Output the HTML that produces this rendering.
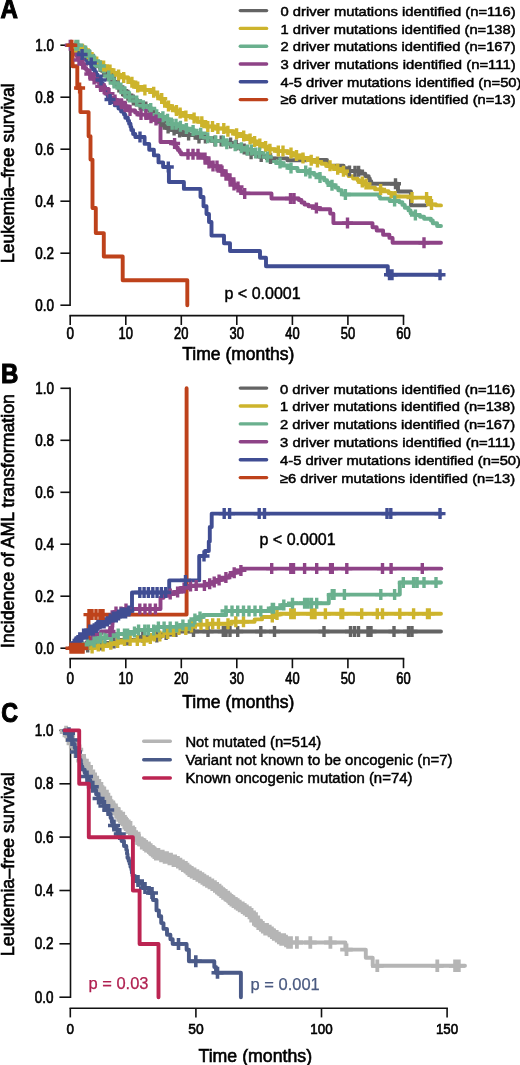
<!DOCTYPE html>
<html><head><meta charset="utf-8"><style>html,body{margin:0;padding:0;background:#fff;width:520px;height:1065px;overflow:hidden}</style></head><body>
<svg width="520" height="1065" viewBox="0 0 520 1065" style="position:absolute;left:0;top:0;filter:blur(0.3px)">
<g font-family='"Liberation Sans", sans-serif'>
<text x="0.5" y="17.6" font-size="27.5" text-anchor="start" font-weight="bold" fill="#000" stroke="#000" stroke-width="1.1" textLength="17.4" lengthAdjust="spacingAndGlyphs">A</text>
<text x="1.0" y="383.2" font-size="27.5" text-anchor="start" font-weight="bold" fill="#000" stroke="#000" stroke-width="1.1" textLength="17.4" lengthAdjust="spacingAndGlyphs">B</text>
<text x="1.2" y="722.3" font-size="27.5" text-anchor="start" font-weight="bold" fill="#000" stroke="#000" stroke-width="1.1" textLength="16.8" lengthAdjust="spacingAndGlyphs">C</text>
<line x1="70.1" y1="45.2" x2="70.1" y2="305.2" stroke="#111" stroke-width="1.6" stroke-linecap="square"/>
<line x1="60.4" y1="305.2" x2="70.1" y2="305.2" stroke="#111" stroke-width="1.6"/>
<text x="54.0" y="310.7" font-size="15.6" text-anchor="end" font-weight="normal" fill="#000" stroke="#000" stroke-width="0.65" textLength="18.7" lengthAdjust="spacingAndGlyphs">0.0</text>
<line x1="60.4" y1="253.2" x2="70.1" y2="253.2" stroke="#111" stroke-width="1.6"/>
<text x="54.0" y="258.7" font-size="15.6" text-anchor="end" font-weight="normal" fill="#000" stroke="#000" stroke-width="0.65" textLength="18.7" lengthAdjust="spacingAndGlyphs">0.2</text>
<line x1="60.4" y1="201.2" x2="70.1" y2="201.2" stroke="#111" stroke-width="1.6"/>
<text x="54.0" y="206.7" font-size="15.6" text-anchor="end" font-weight="normal" fill="#000" stroke="#000" stroke-width="0.65" textLength="18.7" lengthAdjust="spacingAndGlyphs">0.4</text>
<line x1="60.4" y1="149.2" x2="70.1" y2="149.2" stroke="#111" stroke-width="1.6"/>
<text x="54.0" y="154.7" font-size="15.6" text-anchor="end" font-weight="normal" fill="#000" stroke="#000" stroke-width="0.65" textLength="18.7" lengthAdjust="spacingAndGlyphs">0.6</text>
<line x1="60.4" y1="97.2" x2="70.1" y2="97.2" stroke="#111" stroke-width="1.6"/>
<text x="54.0" y="102.7" font-size="15.6" text-anchor="end" font-weight="normal" fill="#000" stroke="#000" stroke-width="0.65" textLength="18.7" lengthAdjust="spacingAndGlyphs">0.8</text>
<line x1="60.4" y1="45.2" x2="70.1" y2="45.2" stroke="#111" stroke-width="1.6"/>
<text x="54.0" y="50.7" font-size="15.6" text-anchor="end" font-weight="normal" fill="#000" stroke="#000" stroke-width="0.65" textLength="18.7" lengthAdjust="spacingAndGlyphs">1.0</text>
<line x1="70.2" y1="315.6" x2="403.5" y2="315.6" stroke="#111" stroke-width="1.6" stroke-linecap="square"/>
<line x1="70.2" y1="315.6" x2="70.2" y2="325.0" stroke="#111" stroke-width="1.6"/>
<text x="70.2" y="338.5" font-size="15.6" text-anchor="middle" font-weight="normal" fill="#000" stroke="#000" stroke-width="0.65" textLength="7.5" lengthAdjust="spacingAndGlyphs">0</text>
<line x1="125.8" y1="315.6" x2="125.8" y2="325.0" stroke="#111" stroke-width="1.6"/>
<text x="125.8" y="338.5" font-size="15.6" text-anchor="middle" font-weight="normal" fill="#000" stroke="#000" stroke-width="0.65" textLength="14.4" lengthAdjust="spacingAndGlyphs">10</text>
<line x1="181.3" y1="315.6" x2="181.3" y2="325.0" stroke="#111" stroke-width="1.6"/>
<text x="181.3" y="338.5" font-size="15.6" text-anchor="middle" font-weight="normal" fill="#000" stroke="#000" stroke-width="0.65" textLength="14.4" lengthAdjust="spacingAndGlyphs">20</text>
<line x1="236.8" y1="315.6" x2="236.8" y2="325.0" stroke="#111" stroke-width="1.6"/>
<text x="236.8" y="338.5" font-size="15.6" text-anchor="middle" font-weight="normal" fill="#000" stroke="#000" stroke-width="0.65" textLength="14.4" lengthAdjust="spacingAndGlyphs">30</text>
<line x1="292.4" y1="315.6" x2="292.4" y2="325.0" stroke="#111" stroke-width="1.6"/>
<text x="292.4" y="338.5" font-size="15.6" text-anchor="middle" font-weight="normal" fill="#000" stroke="#000" stroke-width="0.65" textLength="14.4" lengthAdjust="spacingAndGlyphs">40</text>
<line x1="347.9" y1="315.6" x2="347.9" y2="325.0" stroke="#111" stroke-width="1.6"/>
<text x="347.9" y="338.5" font-size="15.6" text-anchor="middle" font-weight="normal" fill="#000" stroke="#000" stroke-width="0.65" textLength="14.4" lengthAdjust="spacingAndGlyphs">50</text>
<line x1="403.5" y1="315.6" x2="403.5" y2="325.0" stroke="#111" stroke-width="1.6"/>
<text x="403.5" y="338.5" font-size="15.6" text-anchor="middle" font-weight="normal" fill="#000" stroke="#000" stroke-width="0.65" textLength="14.4" lengthAdjust="spacingAndGlyphs">60</text>
<text x="182.3" y="359.6" font-size="18.4" text-anchor="start" font-weight="normal" fill="#000" stroke="#000" stroke-width="0.65" textLength="112.1" lengthAdjust="spacingAndGlyphs">Time (months)</text>
<text transform="translate(13.7,263.0) rotate(-90)" x="0" y="0" font-size="18.3" stroke="#000" stroke-width="0.65" textLength="179.6" lengthAdjust="spacingAndGlyphs">Leukemia–free survival</text>
<text x="224.5" y="298.7" font-size="16.0" text-anchor="start" font-weight="normal" fill="#000" stroke="#000" stroke-width="0.45" textLength="76.1" lengthAdjust="spacingAndGlyphs">p &lt; 0.0001</text>
<line x1="240.3" y1="10.6" x2="266.6" y2="10.6" stroke="#646464" stroke-width="3.4" stroke-linecap="round"/>
<text x="280.5" y="15.9" font-size="13.6" text-anchor="start" font-weight="normal" fill="#000" stroke="#000" stroke-width="0.5" textLength="235.1" lengthAdjust="spacingAndGlyphs">0 driver mutations identified (n=116)</text>
<line x1="240.3" y1="28.4" x2="266.6" y2="28.4" stroke="#CDB42C" stroke-width="3.4" stroke-linecap="round"/>
<text x="280.5" y="33.6" font-size="13.6" text-anchor="start" font-weight="normal" fill="#000" stroke="#000" stroke-width="0.5" textLength="235.1" lengthAdjust="spacingAndGlyphs">1 driver mutations identified (n=138)</text>
<line x1="240.3" y1="46.2" x2="266.6" y2="46.2" stroke="#6AB08E" stroke-width="3.4" stroke-linecap="round"/>
<text x="280.5" y="51.3" font-size="13.6" text-anchor="start" font-weight="normal" fill="#000" stroke="#000" stroke-width="0.5" textLength="235.1" lengthAdjust="spacingAndGlyphs">2 driver mutations identified (n=167)</text>
<line x1="240.3" y1="64.0" x2="266.6" y2="64.0" stroke="#8E4387" stroke-width="3.4" stroke-linecap="round"/>
<text x="280.5" y="69.0" font-size="13.6" text-anchor="start" font-weight="normal" fill="#000" stroke="#000" stroke-width="0.5" textLength="235.1" lengthAdjust="spacingAndGlyphs">3 driver mutations identified (n=111)</text>
<line x1="240.3" y1="81.8" x2="266.6" y2="81.8" stroke="#404D93" stroke-width="3.4" stroke-linecap="round"/>
<text x="280.5" y="86.7" font-size="13.6" text-anchor="start" font-weight="normal" fill="#000" stroke="#000" stroke-width="0.5" textLength="241.0" lengthAdjust="spacingAndGlyphs">4-5 driver mutations identified (n=50)</text>
<line x1="240.3" y1="99.6" x2="266.6" y2="99.6" stroke="#BE421B" stroke-width="3.4" stroke-linecap="round"/>
<text x="280.5" y="104.4" font-size="13.6" text-anchor="start" font-weight="normal" fill="#000" stroke="#000" stroke-width="0.5" textLength="235.1" lengthAdjust="spacingAndGlyphs">≥6 driver mutations identified (n=13)</text>
<line x1="70.1" y1="388.3" x2="70.1" y2="648.2" stroke="#111" stroke-width="1.6" stroke-linecap="square"/>
<line x1="60.4" y1="648.2" x2="70.1" y2="648.2" stroke="#111" stroke-width="1.6"/>
<text x="54.0" y="653.7" font-size="15.6" text-anchor="end" font-weight="normal" fill="#000" stroke="#000" stroke-width="0.65" textLength="18.7" lengthAdjust="spacingAndGlyphs">0.0</text>
<line x1="60.4" y1="596.2" x2="70.1" y2="596.2" stroke="#111" stroke-width="1.6"/>
<text x="54.0" y="601.7" font-size="15.6" text-anchor="end" font-weight="normal" fill="#000" stroke="#000" stroke-width="0.65" textLength="18.7" lengthAdjust="spacingAndGlyphs">0.2</text>
<line x1="60.4" y1="544.2" x2="70.1" y2="544.2" stroke="#111" stroke-width="1.6"/>
<text x="54.0" y="549.7" font-size="15.6" text-anchor="end" font-weight="normal" fill="#000" stroke="#000" stroke-width="0.65" textLength="18.7" lengthAdjust="spacingAndGlyphs">0.4</text>
<line x1="60.4" y1="492.3" x2="70.1" y2="492.3" stroke="#111" stroke-width="1.6"/>
<text x="54.0" y="497.7" font-size="15.6" text-anchor="end" font-weight="normal" fill="#000" stroke="#000" stroke-width="0.65" textLength="18.7" lengthAdjust="spacingAndGlyphs">0.6</text>
<line x1="60.4" y1="440.3" x2="70.1" y2="440.3" stroke="#111" stroke-width="1.6"/>
<text x="54.0" y="445.7" font-size="15.6" text-anchor="end" font-weight="normal" fill="#000" stroke="#000" stroke-width="0.65" textLength="18.7" lengthAdjust="spacingAndGlyphs">0.8</text>
<line x1="60.4" y1="388.3" x2="70.1" y2="388.3" stroke="#111" stroke-width="1.6"/>
<text x="54.0" y="393.8" font-size="15.6" text-anchor="end" font-weight="normal" fill="#000" stroke="#000" stroke-width="0.65" textLength="18.7" lengthAdjust="spacingAndGlyphs">1.0</text>
<line x1="70.2" y1="658.6" x2="403.5" y2="658.6" stroke="#111" stroke-width="1.6" stroke-linecap="square"/>
<line x1="70.2" y1="658.6" x2="70.2" y2="668.2" stroke="#111" stroke-width="1.6"/>
<text x="70.2" y="683.7" font-size="15.6" text-anchor="middle" font-weight="normal" fill="#000" stroke="#000" stroke-width="0.65" textLength="7.5" lengthAdjust="spacingAndGlyphs">0</text>
<line x1="125.8" y1="658.6" x2="125.8" y2="668.2" stroke="#111" stroke-width="1.6"/>
<text x="125.8" y="683.7" font-size="15.6" text-anchor="middle" font-weight="normal" fill="#000" stroke="#000" stroke-width="0.65" textLength="14.4" lengthAdjust="spacingAndGlyphs">10</text>
<line x1="181.3" y1="658.6" x2="181.3" y2="668.2" stroke="#111" stroke-width="1.6"/>
<text x="181.3" y="683.7" font-size="15.6" text-anchor="middle" font-weight="normal" fill="#000" stroke="#000" stroke-width="0.65" textLength="14.4" lengthAdjust="spacingAndGlyphs">20</text>
<line x1="236.8" y1="658.6" x2="236.8" y2="668.2" stroke="#111" stroke-width="1.6"/>
<text x="236.8" y="683.7" font-size="15.6" text-anchor="middle" font-weight="normal" fill="#000" stroke="#000" stroke-width="0.65" textLength="14.4" lengthAdjust="spacingAndGlyphs">30</text>
<line x1="292.4" y1="658.6" x2="292.4" y2="668.2" stroke="#111" stroke-width="1.6"/>
<text x="292.4" y="683.7" font-size="15.6" text-anchor="middle" font-weight="normal" fill="#000" stroke="#000" stroke-width="0.65" textLength="14.4" lengthAdjust="spacingAndGlyphs">40</text>
<line x1="347.9" y1="658.6" x2="347.9" y2="668.2" stroke="#111" stroke-width="1.6"/>
<text x="347.9" y="683.7" font-size="15.6" text-anchor="middle" font-weight="normal" fill="#000" stroke="#000" stroke-width="0.65" textLength="14.4" lengthAdjust="spacingAndGlyphs">50</text>
<line x1="403.5" y1="658.6" x2="403.5" y2="668.2" stroke="#111" stroke-width="1.6"/>
<text x="403.5" y="683.7" font-size="15.6" text-anchor="middle" font-weight="normal" fill="#000" stroke="#000" stroke-width="0.65" textLength="14.4" lengthAdjust="spacingAndGlyphs">60</text>
<text x="182.3" y="707.7" font-size="18.4" text-anchor="start" font-weight="normal" fill="#000" stroke="#000" stroke-width="0.65" textLength="112.1" lengthAdjust="spacingAndGlyphs">Time (months)</text>
<text transform="translate(13.6,648.0) rotate(-90)" x="0" y="0" font-size="18.3" stroke="#000" stroke-width="0.65" textLength="254.0" lengthAdjust="spacingAndGlyphs">Incidence of AML transformation</text>
<text x="259.5" y="544.9" font-size="16.0" text-anchor="start" font-weight="normal" fill="#000" stroke="#000" stroke-width="0.45" textLength="76.1" lengthAdjust="spacingAndGlyphs">p &lt; 0.0001</text>
<line x1="240.3" y1="388.1" x2="266.6" y2="388.1" stroke="#646464" stroke-width="3.4" stroke-linecap="round"/>
<text x="280.0" y="393.6" font-size="13.6" text-anchor="start" font-weight="normal" fill="#000" stroke="#000" stroke-width="0.5" textLength="235.1" lengthAdjust="spacingAndGlyphs">0 driver mutations identified (n=116)</text>
<line x1="240.3" y1="406.0" x2="266.6" y2="406.0" stroke="#CDB42C" stroke-width="3.4" stroke-linecap="round"/>
<text x="280.0" y="411.4" font-size="13.6" text-anchor="start" font-weight="normal" fill="#000" stroke="#000" stroke-width="0.5" textLength="235.1" lengthAdjust="spacingAndGlyphs">1 driver mutations identified (n=138)</text>
<line x1="240.3" y1="423.9" x2="266.6" y2="423.9" stroke="#6AB08E" stroke-width="3.4" stroke-linecap="round"/>
<text x="280.0" y="429.2" font-size="13.6" text-anchor="start" font-weight="normal" fill="#000" stroke="#000" stroke-width="0.5" textLength="235.1" lengthAdjust="spacingAndGlyphs">2 driver mutations identified (n=167)</text>
<line x1="240.3" y1="441.8" x2="266.6" y2="441.8" stroke="#8E4387" stroke-width="3.4" stroke-linecap="round"/>
<text x="280.0" y="447.0" font-size="13.6" text-anchor="start" font-weight="normal" fill="#000" stroke="#000" stroke-width="0.5" textLength="235.1" lengthAdjust="spacingAndGlyphs">3 driver mutations identified (n=111)</text>
<line x1="240.3" y1="459.7" x2="266.6" y2="459.7" stroke="#404D93" stroke-width="3.4" stroke-linecap="round"/>
<text x="280.0" y="464.8" font-size="13.6" text-anchor="start" font-weight="normal" fill="#000" stroke="#000" stroke-width="0.5" textLength="241.0" lengthAdjust="spacingAndGlyphs">4-5 driver mutations identified (n=50)</text>
<line x1="240.3" y1="477.6" x2="266.6" y2="477.6" stroke="#BE421B" stroke-width="3.4" stroke-linecap="round"/>
<text x="280.0" y="482.6" font-size="13.6" text-anchor="start" font-weight="normal" fill="#000" stroke="#000" stroke-width="0.5" textLength="235.1" lengthAdjust="spacingAndGlyphs">≥6 driver mutations identified (n=13)</text>
<line x1="70.5" y1="730.4" x2="70.5" y2="997.2" stroke="#111" stroke-width="1.6" stroke-linecap="square"/>
<line x1="59.4" y1="997.2" x2="70.5" y2="997.2" stroke="#111" stroke-width="1.6"/>
<text x="53.5" y="1002.7" font-size="15.6" text-anchor="end" font-weight="normal" fill="#000" stroke="#000" stroke-width="0.65" textLength="18.7" lengthAdjust="spacingAndGlyphs">0.0</text>
<line x1="59.4" y1="943.8" x2="70.5" y2="943.8" stroke="#111" stroke-width="1.6"/>
<text x="53.5" y="949.3" font-size="15.6" text-anchor="end" font-weight="normal" fill="#000" stroke="#000" stroke-width="0.65" textLength="18.7" lengthAdjust="spacingAndGlyphs">0.2</text>
<line x1="59.4" y1="890.5" x2="70.5" y2="890.5" stroke="#111" stroke-width="1.6"/>
<text x="53.5" y="895.9" font-size="15.6" text-anchor="end" font-weight="normal" fill="#000" stroke="#000" stroke-width="0.65" textLength="18.7" lengthAdjust="spacingAndGlyphs">0.4</text>
<line x1="59.4" y1="837.1" x2="70.5" y2="837.1" stroke="#111" stroke-width="1.6"/>
<text x="53.5" y="842.6" font-size="15.6" text-anchor="end" font-weight="normal" fill="#000" stroke="#000" stroke-width="0.65" textLength="18.7" lengthAdjust="spacingAndGlyphs">0.6</text>
<line x1="59.4" y1="783.8" x2="70.5" y2="783.8" stroke="#111" stroke-width="1.6"/>
<text x="53.5" y="789.2" font-size="15.6" text-anchor="end" font-weight="normal" fill="#000" stroke="#000" stroke-width="0.65" textLength="18.7" lengthAdjust="spacingAndGlyphs">0.8</text>
<line x1="59.4" y1="730.4" x2="70.5" y2="730.4" stroke="#111" stroke-width="1.6"/>
<text x="53.5" y="735.9" font-size="15.6" text-anchor="end" font-weight="normal" fill="#000" stroke="#000" stroke-width="0.65" textLength="18.7" lengthAdjust="spacingAndGlyphs">1.0</text>
<line x1="70.3" y1="1008.2" x2="447.1" y2="1008.2" stroke="#111" stroke-width="1.6" stroke-linecap="square"/>
<line x1="70.3" y1="1008.2" x2="70.3" y2="1017.4000000000001" stroke="#111" stroke-width="1.6"/>
<text x="70.3" y="1034.4" font-size="15.2" text-anchor="middle" font-weight="normal" fill="#000" stroke="#000" stroke-width="0.65" textLength="7.5" lengthAdjust="spacingAndGlyphs">0</text>
<line x1="195.9" y1="1008.2" x2="195.9" y2="1017.4000000000001" stroke="#111" stroke-width="1.6"/>
<text x="195.9" y="1034.4" font-size="15.2" text-anchor="middle" font-weight="normal" fill="#000" stroke="#000" stroke-width="0.65" textLength="15.4" lengthAdjust="spacingAndGlyphs">50</text>
<line x1="321.5" y1="1008.2" x2="321.5" y2="1017.4000000000001" stroke="#111" stroke-width="1.6"/>
<text x="321.5" y="1034.4" font-size="15.2" text-anchor="middle" font-weight="normal" fill="#000" stroke="#000" stroke-width="0.65" textLength="22.3" lengthAdjust="spacingAndGlyphs">100</text>
<line x1="447.1" y1="1008.2" x2="447.1" y2="1017.4000000000001" stroke="#111" stroke-width="1.6"/>
<text x="447.1" y="1034.4" font-size="15.2" text-anchor="middle" font-weight="normal" fill="#000" stroke="#000" stroke-width="0.65" textLength="22.3" lengthAdjust="spacingAndGlyphs">150</text>
<text x="198.5" y="1062.3" font-size="18.8" text-anchor="start" font-weight="normal" fill="#000" stroke="#000" stroke-width="0.65" textLength="113.6" lengthAdjust="spacingAndGlyphs">Time (months)</text>
<text transform="translate(14.1,956.2) rotate(-90)" x="0" y="0" font-size="18.8" stroke="#000" stroke-width="0.65" textLength="183.8" lengthAdjust="spacingAndGlyphs">Leukemia–free survival</text>
<line x1="143.7" y1="741.2" x2="170.3" y2="741.2" stroke="#B5B5B5" stroke-width="3.4" stroke-linecap="round"/>
<text x="185.4" y="746.6" font-size="14.0" text-anchor="start" font-weight="normal" fill="#000" stroke="#000" stroke-width="0.45" textLength="135.9" lengthAdjust="spacingAndGlyphs">Not mutated (n=514)</text>
<line x1="143.7" y1="759.8" x2="170.3" y2="759.8" stroke="#4A5A88" stroke-width="3.4" stroke-linecap="round"/>
<text x="185.4" y="764.6" font-size="14.0" text-anchor="start" font-weight="normal" fill="#000" stroke="#000" stroke-width="0.45" textLength="267.1" lengthAdjust="spacingAndGlyphs">Variant not known to be oncogenic (n=7)</text>
<line x1="143.7" y1="778.0" x2="170.3" y2="778.0" stroke="#BC2452" stroke-width="3.4" stroke-linecap="round"/>
<text x="185.4" y="783.1" font-size="14.0" text-anchor="start" font-weight="normal" fill="#000" stroke="#000" stroke-width="0.45" textLength="227.1" lengthAdjust="spacingAndGlyphs">Known oncogenic mutation (n=74)</text>
<text x="88.5" y="989.2" font-size="16.2" text-anchor="start" font-weight="normal" fill="#B02050" stroke="#B02050" stroke-width="0.25" textLength="60.0" lengthAdjust="spacingAndGlyphs">p = 0.03</text>
<text x="250.6" y="989.6" font-size="16.2" text-anchor="start" font-weight="normal" fill="#4A5A80" stroke="#4A5A80" stroke-width="0.25" textLength="69.2" lengthAdjust="spacingAndGlyphs">p = 0.001</text>
</g>
<g>
<path d="M70.0,45.2L74.0,45.2L74.0,45.5L78.0,45.5L79.6,45.5L79.6,48.2L83.4,48.2L83.4,51.0L85.0,51.0L86.6,51.0L86.6,53.2L88.0,53.2L88.0,55.4L90.0,55.4L90.0,57.6L92.1,57.6L92.1,59.8L93.6,59.8L93.6,62.0L95.0,62.0L96.0,62.0L96.0,64.2L98.2,64.2L98.2,66.4L100.4,66.4L100.4,68.6L101.4,68.6L101.4,70.8L103.7,70.8L103.7,73.0L105.0,73.0L105.4,73.0L105.4,75.2L108.4,75.2L108.4,77.4L110.3,77.4L110.3,79.6L111.4,79.6L111.4,81.8L114.7,81.8L114.7,84.0L115.0,84.0L117.1,84.0L117.1,86.2L119.0,86.2L119.0,88.5L121.5,88.5L121.5,90.8L123.2,90.8L123.2,93.0L125.0,93.0L125.5,93.0L125.5,95.3L130.1,95.3L130.1,97.7L132.3,97.7L132.3,100.0L135.0,100.0L135.9,100.0L135.9,102.3L139.4,102.3L139.4,104.7L142.2,104.7L142.2,107.0L145.0,107.0L146.6,107.0L146.6,109.3L149.9,109.3L149.9,111.7L154.1,111.7L154.1,114.0L155.0,114.0L156.0,114.0L156.0,116.4L158.2,116.4L158.2,118.8L160.0,118.8L160.0,121.2L162.2,121.2L162.2,123.6L163.9,123.6L163.9,126.0L165.0,126.0L166.1,126.0L166.1,128.0L171.2,128.0L171.2,130.0L174.5,130.0L174.5,132.0L175.0,132.0L182.5,132.0L182.5,135.0L190.0,135.0L197.5,135.0L197.5,138.0L205.0,138.0L212.5,138.0L212.5,141.0L220.0,141.0L225.5,141.0L225.5,143.0L232.3,143.0L232.3,145.0L235.0,145.0L236.9,145.0L236.9,147.0L241.6,147.0L241.6,149.0L246.8,149.0L246.8,151.0L250.0,151.0L251.0,151.0L251.0,153.8L258.4,153.8L258.4,156.5L260.0,156.5L269.1,156.5L269.1,158.4L278.3,158.4L287.4,158.4L287.4,160.2L296.5,160.2L306.8,160.2L306.8,160.0L317.0,160.0L327.0,160.0L327.0,165.7L342.0,165.7L343.6,165.7L343.6,168.3L348.5,168.3L348.5,171.0L349.5,171.0L354.1,171.0L354.1,171.2L358.6,171.2L360.1,171.2L360.1,173.6L365.3,173.6L365.3,176.1L368.7,176.1L368.7,178.5L369.6,178.5L369.8,178.5L369.8,181.1L371.2,181.1L371.2,183.7L372.0,183.7L398.0,183.7L398.0,191.5L411.0,191.5L411.0,205.4L425.7,205.4" fill="none" stroke="#646464" stroke-width="3.9" stroke-linejoin="round" stroke-linecap="round"/>
<path d="M70.0,45.2L75.0,45.2L75.0,47.0L80.0,47.0L80.7,47.0L80.7,49.2L84.1,49.2L84.1,51.5L86.5,51.5L86.5,53.8L88.7,53.8L88.7,56.0L90.0,56.0L90.7,56.0L90.7,58.0L94.0,58.0L94.0,60.0L96.3,60.0L96.3,62.0L97.0,62.0L98.8,62.0L98.8,64.0L102.3,64.0L102.3,66.0L104.0,66.0L104.9,66.0L104.9,68.0L107.5,68.0L107.5,70.0L110.0,70.0L112.5,70.0L112.5,73.0L115.0,73.0L118.5,73.0L118.5,75.0L122.0,75.0L123.6,75.0L123.6,77.5L128.2,77.5L128.2,80.0L130.0,80.0L130.5,80.0L130.5,82.3L134.0,82.3L134.0,84.7L135.4,84.7L135.4,87.0L137.0,87.0L144.2,87.0L144.2,90.0L151.5,90.0L152.2,90.0L152.2,92.2L154.0,92.2L154.0,94.3L157.7,94.3L157.7,96.5L159.4,96.5L159.4,98.6L161.8,98.6L161.8,100.8L162.3,100.8L164.5,100.8L164.5,103.4L166.8,103.4L166.8,106.0L170.0,106.0L171.3,106.0L171.3,108.3L175.0,108.3L175.0,110.6L177.4,110.6L177.4,112.9L180.0,112.9L185.0,112.9L185.0,116.0L190.0,116.0L192.7,116.0L192.7,117.9L194.7,117.9L194.7,119.8L197.5,119.8L197.5,121.7L200.0,121.7L203.6,121.7L203.6,124.1L206.2,124.1L206.2,126.5L210.0,126.5L215.0,126.5L215.0,128.5L220.0,128.5L225.0,128.5L225.0,131.3L230.0,131.3L234.0,131.3L234.0,133.7L237.3,133.7L237.3,136.0L240.0,136.0L245.0,136.0L245.0,139.0L250.0,139.0L252.7,139.0L252.7,141.5L257.0,141.5L257.0,144.0L260.0,144.0L263.6,144.0L263.6,146.6L269.4,146.6L269.4,149.2L274.6,149.2L276.0,149.2L276.0,151.1L288.1,151.1L288.1,153.0L290.0,153.0L292.4,153.0L292.4,155.5L302.7,155.5L302.7,158.0L305.0,158.0L309.9,158.0L309.9,160.2L314.8,160.2L315.9,160.2L315.9,162.0L321.4,162.0L321.4,163.8L322.0,163.8L326.3,163.8L326.3,165.7L331.2,165.7L331.2,167.5L333.0,167.5L336.8,167.5L336.8,169.3L341.6,169.3L341.6,171.2L344.0,171.2L346.4,171.2L346.4,173.6L348.5,173.6L348.5,176.1L353.1,176.1L353.1,178.5L355.0,178.5L357.6,178.5L357.6,180.2L359.5,180.2L359.5,182.0L362.0,182.0L364.0,182.0L364.0,183.9L366.5,183.9L366.5,185.7L368.2,185.7L368.2,187.6L369.6,187.6L375.1,187.6L375.1,189.4L380.6,189.4L382.8,189.4L382.8,191.2L388.6,191.2L388.6,193.0L391.5,193.0L392.2,193.0L392.2,194.8L394.7,194.8L394.7,196.5L395.0,196.5L411.5,196.5L411.5,197.6L428.0,197.6L428.4,197.6L428.4,199.9L429.2,199.9L429.2,202.2L430.2,202.2L430.2,204.5L431.0,204.5L436.0,204.5L436.0,205.4L441.0,205.4" fill="none" stroke="#CDB42C" stroke-width="3.9" stroke-linejoin="round" stroke-linecap="round"/>
<path d="M70.0,45.2L78.0,45.2L78.4,45.2L78.4,47.1L80.9,47.1L80.9,49.1L83.7,49.1L83.7,51.0L85.0,51.0L86.6,51.0L86.6,53.5L88.1,53.5L88.1,56.0L90.0,56.0L90.6,56.0L90.6,58.5L93.3,58.5L93.3,61.0L95.0,61.0L96.7,61.0L96.7,63.5L98.1,63.5L98.1,66.0L100.0,66.0L101.1,66.0L101.1,68.0L102.7,68.0L102.7,70.0L103.7,70.0L103.7,72.0L105.0,72.0L105.9,72.0L105.9,74.0L107.4,74.0L107.4,76.0L109.1,76.0L109.1,78.0L110.0,78.0L112.1,78.0L112.1,80.5L113.0,80.5L113.0,83.0L115.0,83.0L115.4,83.0L115.4,85.5L119.5,85.5L119.5,88.0L120.0,88.0L121.1,88.0L121.1,90.2L123.2,90.2L123.2,92.5L126.0,92.5L126.0,94.8L128.5,94.8L128.5,97.0L130.0,97.0L132.7,97.0L132.7,99.0L134.3,99.0L134.3,101.0L137.7,101.0L137.7,103.0L140.0,103.0L142.8,103.0L142.8,105.8L147.7,105.8L147.7,108.5L150.0,108.5L152.0,108.5L152.0,110.5L154.3,110.5L154.3,112.6L156.0,112.6L156.0,114.7L158.2,114.7L158.2,116.7L160.0,116.7L163.7,116.7L163.7,119.3L169.2,119.3L169.2,122.0L170.0,122.0L170.9,122.0L170.9,124.2L178.3,124.2L178.3,126.3L180.0,126.3L183.8,126.3L183.8,128.4L188.0,128.4L188.0,130.5L190.0,130.5L195.0,130.5L195.0,133.3L200.0,133.3L201.0,133.3L201.0,135.5L205.7,135.5L205.7,137.8L208.9,137.8L208.9,140.0L210.0,140.0L215.0,140.0L215.0,141.0L220.0,141.0L225.0,141.0L225.0,143.8L230.0,143.8L231.4,143.8L231.4,145.8L238.0,145.8L238.0,147.7L240.0,147.7L245.0,147.7L245.0,150.0L250.0,150.0L255.0,150.0L255.0,153.0L260.0,153.0L261.1,153.0L261.1,155.0L264.3,155.0L264.3,157.0L268.7,157.0L268.7,159.0L272.4,159.0L272.4,161.0L276.2,161.0L276.2,163.0L278.3,163.0L281.8,163.0L281.8,165.5L288.5,165.5L288.5,168.0L290.0,168.0L297.5,168.0L297.5,171.0L305.0,171.0L309.0,171.0L309.0,172.9L314.0,172.9L314.0,174.8L314.8,174.8L319.4,174.8L319.4,177.6L324.2,177.6L324.2,180.3L325.8,180.3L327.1,180.3L327.1,182.7L330.4,182.7L330.4,185.2L335.2,185.2L335.2,187.6L336.7,187.6L338.3,187.6L338.3,190.3L341.7,190.3L341.7,193.0L342.9,193.0L342.9,194.5L378.9,194.5L379.1,194.5L379.1,196.6L380.0,196.6L380.0,198.6L380.6,198.6L389.7,198.6L389.7,201.0L398.8,201.0L399.4,201.0L399.4,202.2L400.0,202.2L402.4,202.2L402.4,204.9L404.8,204.9L404.8,207.7L406.1,207.7L408.5,207.7L408.5,210.4L410.6,210.4L410.6,213.2L413.5,213.2L415.1,213.2L415.1,215.0L420.0,215.0L420.0,216.8L420.8,216.8L424.1,216.8L424.1,218.7L430.9,218.7L430.9,220.5L431.7,220.5L432.8,220.5L432.8,223.2L437.1,223.2L437.1,226.0L439.0,226.0L441.0,226.0" fill="none" stroke="#6AB08E" stroke-width="3.9" stroke-linejoin="round" stroke-linecap="round"/>
<path d="M70.0,45.2L71.0,45.2L71.0,48.0L72.0,48.0L72.5,48.0L72.5,50.0L73.6,50.0L73.6,52.0L74.7,52.0L74.7,54.0L76.5,54.0L76.5,56.0L77.5,56.0L77.5,58.0L78.0,58.0L78.9,58.0L78.9,60.0L80.2,60.0L80.2,62.0L81.4,62.0L81.4,64.0L83.1,64.0L83.1,66.0L84.4,66.0L84.4,68.0L85.0,68.0L86.2,68.0L86.2,70.0L87.7,70.0L87.7,72.0L89.6,72.0L89.6,74.0L90.0,74.0L91.1,74.0L91.1,76.5L93.1,76.5L93.1,79.0L95.0,79.0L95.6,79.0L95.6,81.5L99.1,81.5L99.1,84.0L100.0,84.0L100.5,84.0L100.5,86.4L103.2,86.4L103.2,88.8L105.2,88.8L105.2,91.2L106.4,91.2L106.4,93.6L109.4,93.6L109.4,96.0L110.0,96.0L110.5,96.0L110.5,98.0L114.7,98.0L114.7,99.9L117.4,99.9L117.4,101.8L118.9,101.8L118.9,103.8L120.8,103.8L123.3,103.8L123.3,106.2L127.2,106.2L127.2,108.5L128.5,108.5L129.5,108.5L129.5,110.5L135.1,110.5L135.1,112.6L137.7,112.6L137.7,114.6L140.8,114.6L146.2,114.6L146.2,117.7L151.5,117.7L153.9,117.7L153.9,120.0L156.6,120.0L156.6,122.3L157.7,122.3L160.5,122.3L160.5,142.0L170.0,142.0L172.3,142.0L172.3,143.5L174.6,143.5L175.8,143.5L175.8,145.7L176.3,145.7L176.3,147.8L177.9,147.8L177.9,150.0L179.6,150.0L179.6,152.1L181.0,152.1L181.0,154.3L181.6,154.3L198.0,154.3L199.0,154.3L199.0,156.2L204.2,156.2L204.2,158.0L205.0,158.0L206.9,158.0L206.9,160.5L208.4,160.5L208.4,163.0L210.0,163.0L212.5,163.0L212.5,166.0L215.0,166.0L217.5,166.0L217.5,169.0L220.0,169.0L220.6,169.0L220.6,171.0L224.0,171.0L224.0,173.0L225.0,173.0L225.7,173.0L225.7,175.0L227.7,175.0L227.7,177.0L229.2,177.0L229.2,179.0L230.0,179.0L230.7,179.0L230.7,181.0L232.0,181.0L232.0,183.0L233.9,183.0L233.9,185.0L236.1,185.0L236.1,187.0L237.0,187.0L238.5,187.0L238.5,189.1L240.4,189.1L240.4,191.3L243.2,191.3L243.2,193.4L244.0,193.4L271.5,193.4L271.5,198.5L297.5,198.5L298.8,198.5L298.8,200.0L300.0,200.0L301.5,200.0L301.5,202.5L303.0,202.5L304.5,202.5L304.5,204.6L306.0,204.6L308.5,204.6L308.5,206.3L311.0,206.3L314.5,206.3L314.5,208.0L318.0,208.0L319.5,208.0L319.5,209.3L321.0,209.3L330.2,209.3L330.2,213.6L333.4,213.6L333.4,223.1L372.5,223.1L372.5,227.3L376.7,227.3L376.7,230.5L383.1,230.5L383.1,234.7L389.4,234.7L389.4,237.9L392.6,237.9L392.6,242.8L441.0,242.8" fill="none" stroke="#8E4387" stroke-width="3.9" stroke-linejoin="round" stroke-linecap="round"/>
<path d="M70.0,45.2L72.0,45.2L72.0,47.0L74.0,47.0L75.0,47.0L75.0,49.5L78.5,49.5L78.5,52.0L80.0,52.0L80.7,52.0L80.7,54.5L84.3,54.5L84.3,57.0L85.0,57.0L85.8,57.0L85.8,60.0L88.8,60.0L88.8,63.0L90.0,63.0L91.3,63.0L91.3,66.0L92.4,66.0L92.4,69.0L94.7,69.0L94.7,72.0L95.0,72.0L96.1,72.0L96.1,74.7L97.6,74.7L97.6,77.3L99.3,77.3L99.3,80.0L100.0,80.0L101.1,80.0L101.1,83.5L102.8,83.5L102.8,87.0L104.0,87.0L105.1,87.0L105.1,90.3L105.9,90.3L105.9,93.7L107.8,93.7L107.8,97.0L108.0,97.0L109.5,97.0L109.5,99.5L110.3,99.5L110.3,102.0L112.0,102.0L114.8,102.0L114.8,105.4L117.7,105.4L118.5,105.4L118.5,108.5L121.1,108.5L121.1,111.5L122.3,111.5L124.0,111.5L124.0,114.6L125.3,114.6L125.3,117.7L127.0,117.7L127.9,117.7L127.9,120.8L129.1,120.8L129.1,123.8L130.0,123.8L130.5,123.8L130.5,126.9L131.3,126.9L131.3,130.0L131.5,130.0L133.1,130.0L133.1,134.0L134.6,134.0L135.3,134.0L135.3,137.0L136.0,137.0L144.6,137.0L144.6,143.9L149.2,143.9L149.2,149.7L153.9,149.7L153.9,155.4L158.5,155.4L158.5,162.4L163.1,162.4L163.1,167.0L168.9,167.0L168.9,182.0L183.9,182.0L183.9,188.9L200.5,188.9L200.5,197.0L203.5,197.0L203.5,206.2L206.5,206.2L206.5,214.0L209.0,214.0L209.0,222.0L211.5,222.0L211.5,235.6L224.0,235.6L224.0,243.3L230.0,243.3L230.0,251.0L260.0,251.0L260.0,257.7L266.0,257.7L266.0,266.3L387.8,266.3L387.8,274.7L441.0,274.7" fill="none" stroke="#404D93" stroke-width="3.9" stroke-linejoin="round" stroke-linecap="round"/>
<path d="M70.0,45.2L72.6,45.2L72.6,66.2L77.3,66.2L77.3,88.0L80.4,88.0L80.4,112.1L88.6,112.1L88.6,136.3L90.5,136.3L90.5,159.6L92.5,159.6L92.5,208.0L95.8,208.0L95.8,233.1L103.8,233.1L103.8,256.5L122.7,256.5L122.7,280.2L187.3,280.2L187.3,305.2" fill="none" stroke="#BE421B" stroke-width="3.9" stroke-linejoin="round" stroke-linecap="round"/>
<path d="M349.5,165.5v11.0M344.0,171.0h11.0M355.0,165.7v11.0M349.5,171.2h11.0M358.6,165.7v11.0M353.1,171.2h11.0M395.5,178.2v11.0M390.0,183.7h11.0M84.1,45.5v11.0M78.6,51.0h11.0M89.6,49.9v11.0M84.1,55.4h11.0M100.2,60.9v11.0M94.7,66.4h11.0M107.6,69.7v11.0M102.1,75.2h11.0M114.4,76.3v11.0M108.9,81.8h11.0M122.7,85.2v11.0M117.2,90.8h11.0M127.9,89.8v11.0M122.4,95.3h11.0M133.3,94.5v11.0M127.8,100.0h11.0M140.2,99.2v11.0M134.7,104.7h11.0M145.8,101.5v11.0M140.3,107.0h11.0M154.5,108.5v11.0M149.0,114.0h11.0M161.5,115.7v11.0M156.0,121.2h11.0M168.1,122.5v11.0M162.6,128.0h11.0M174.1,124.5v11.0M168.6,130.0h11.0M179.6,126.5v11.0M174.1,132.0h11.0M188.6,129.5v11.0M183.1,135.0h11.0M199.0,132.5v11.0M193.5,138.0h11.0M205.4,132.5v11.0M199.9,138.0h11.0M215.0,135.5v11.0M209.5,141.0h11.0M221.2,135.5v11.0M215.7,141.0h11.0M230.6,137.5v11.0M225.1,143.0h11.0M236.2,139.5v11.0M230.7,145.0h11.0M244.2,143.5v11.0M238.7,149.0h11.0M251.1,148.2v11.0M245.6,153.8h11.0M261.2,151.0v11.0M255.7,156.5h11.0M270.5,152.9v11.0M265.0,158.4h11.0" fill="none" stroke="#646464" stroke-width="3.4"/>
<path d="M278.3,145.6v11.0M272.8,151.1h11.0M283.0,145.6v11.0M277.5,151.1h11.0M291.0,147.5v11.0M285.5,153.0h11.0M296.5,150.0v11.0M291.0,155.5h11.0M303.0,152.5v11.0M297.5,158.0h11.0M311.2,154.7v11.0M305.7,160.2h11.0M317.5,156.5v11.0M312.0,162.0h11.0M330.0,160.2v11.0M324.5,165.7h11.0M337.7,163.8v11.0M332.2,169.3h11.0M343.5,165.7v11.0M338.0,171.2h11.0M362.3,176.5v11.0M356.8,182.0h11.0M366.0,178.4v11.0M360.5,183.9h11.0M380.6,183.9v11.0M375.1,189.4h11.0M395.0,191.0v11.0M389.5,196.5h11.0M412.0,192.1v11.0M406.5,197.6h11.0M426.6,192.1v11.0M421.1,197.6h11.0M431.5,199.0v11.0M426.0,204.5h11.0M75.8,41.5v11.0M70.3,47.0h11.0M82.5,43.8v11.0M77.0,49.2h11.0M88.2,48.2v11.0M82.7,53.8h11.0M96.7,56.5v11.0M91.2,62.0h11.0M103.6,60.5v11.0M98.1,66.0h11.0M110.0,64.5v11.0M104.5,70.0h11.0M118.6,69.5v11.0M113.1,75.0h11.0M123.7,72.0v11.0M118.2,77.5h11.0M131.9,76.8v11.0M126.4,82.3h11.0M137.7,81.5v11.0M132.2,87.0h11.0M144.9,84.5v11.0M139.4,90.0h11.0M153.7,86.7v11.0M148.2,92.2h11.0M161.7,93.1v11.0M156.2,98.6h11.0M168.5,100.5v11.0M163.0,106.0h11.0M176.4,105.1v11.0M170.9,110.6h11.0M180.1,107.4v11.0M174.6,112.9h11.0M185.9,110.5v11.0M180.4,116.0h11.0M194.1,112.4v11.0M188.6,117.9h11.0M201.8,116.2v11.0M196.3,121.7h11.0M207.8,121.0v11.0M202.3,126.5h11.0M212.5,121.0v11.0M207.0,126.5h11.0M217.9,123.0v11.0M212.4,128.5h11.0M223.8,123.0v11.0M218.3,128.5h11.0M227.9,125.8v11.0M222.4,131.3h11.0M236.6,128.2v11.0M231.1,133.7h11.0M243.7,130.5v11.0M238.2,136.0h11.0M250.1,133.5v11.0M244.6,139.0h11.0M254.6,136.0v11.0M249.1,141.5h11.0M259.8,138.5v11.0M254.3,144.0h11.0M265.6,141.1v11.0M260.1,146.6h11.0M269.9,143.7v11.0M264.4,149.2h11.0" fill="none" stroke="#CDB42C" stroke-width="3.4"/>
<path d="M76.0,39.7v11.0M70.5,45.2h11.0M267.3,151.5v11.0M261.8,157.0h11.0M280.0,157.5v11.0M274.5,163.0h11.0M291.0,162.5v11.0M285.5,168.0h11.0M305.7,165.5v11.0M300.2,171.0h11.0M310.0,167.4v11.0M304.5,172.9h11.0M320.0,172.1v11.0M314.5,177.6h11.0M332.0,179.7v11.0M326.5,185.2h11.0M345.4,189.0v11.0M339.9,194.5h11.0M394.6,195.5v11.0M389.1,201.0h11.0M415.4,209.5v11.0M409.9,215.0h11.0M77.8,39.7v11.0M72.3,45.2h11.0M85.6,45.5v11.0M80.1,51.0h11.0M89.6,50.5v11.0M84.1,56.0h11.0M94.6,55.5v11.0M89.1,61.0h11.0M100.3,60.5v11.0M94.8,66.0h11.0M108.7,70.5v11.0M103.2,76.0h11.0M114.1,77.5v11.0M108.6,83.0h11.0M120.9,82.5v11.0M115.4,88.0h11.0M124.9,87.0v11.0M119.4,92.5h11.0M129.4,91.5v11.0M123.9,97.0h11.0M136.7,95.5v11.0M131.2,101.0h11.0M143.3,100.2v11.0M137.8,105.8h11.0M150.7,103.0v11.0M145.2,108.5h11.0M156.7,109.2v11.0M151.2,114.7h11.0M162.9,111.2v11.0M157.4,116.7h11.0M167.5,113.8v11.0M162.0,119.3h11.0M172.2,118.7v11.0M166.7,124.2h11.0M176.0,118.7v11.0M170.5,124.2h11.0M180.4,120.8v11.0M174.9,126.3h11.0M186.4,122.9v11.0M180.9,128.4h11.0M193.1,125.0v11.0M187.6,130.5h11.0M200.7,127.8v11.0M195.2,133.3h11.0M207.7,132.3v11.0M202.2,137.8h11.0M215.7,135.5v11.0M210.2,141.0h11.0M223.3,135.5v11.0M217.8,141.0h11.0M226.8,138.3v11.0M221.3,143.8h11.0M235.2,140.2v11.0M229.7,145.8h11.0M241.4,142.2v11.0M235.9,147.7h11.0M247.3,144.5v11.0M241.8,150.0h11.0M251.3,144.5v11.0M245.8,150.0h11.0M255.6,147.5v11.0M250.1,153.0h11.0M259.5,147.5v11.0M254.0,153.0h11.0" fill="none" stroke="#6AB08E" stroke-width="3.4"/>
<path d="M70.3,39.7v11.0M64.8,45.2h11.0M125.0,100.7v11.0M119.5,106.2h11.0M130.0,105.0v11.0M124.5,110.5h11.0M141.0,109.1v11.0M135.5,114.6h11.0M146.0,109.1v11.0M140.5,114.6h11.0M151.0,112.2v11.0M145.5,117.7h11.0M156.0,114.5v11.0M150.5,120.0h11.0M174.6,138.0v11.0M169.1,143.5h11.0M188.0,148.8v11.0M182.5,154.3h11.0M193.0,148.8v11.0M187.5,154.3h11.0M198.0,148.8v11.0M192.5,154.3h11.0M205.0,152.5v11.0M199.5,158.0h11.0M209.0,157.5v11.0M203.5,163.0h11.0M213.0,160.5v11.0M207.5,166.0h11.0M217.0,160.5v11.0M211.5,166.0h11.0M222.0,165.5v11.0M216.5,171.0h11.0M226.0,169.5v11.0M220.5,175.0h11.0M230.0,173.5v11.0M224.5,179.0h11.0M234.0,179.5v11.0M228.5,185.0h11.0M238.0,181.5v11.0M232.5,187.0h11.0M244.7,187.9v11.0M239.2,193.4h11.0M290.5,193.0v11.0M285.0,198.5h11.0M294.0,193.0v11.0M288.5,198.5h11.0M316.4,202.5v11.0M310.9,208.0h11.0M347.5,217.6v11.0M342.0,223.1h11.0M424.0,237.3v11.0M418.5,242.8h11.0M79.1,54.5v11.0M73.6,60.0h11.0M82.8,58.5v11.0M77.3,64.0h11.0M89.8,68.5v11.0M84.3,74.0h11.0M94.1,73.5v11.0M88.6,79.0h11.0M100.7,80.9v11.0M95.2,86.4h11.0M104.2,83.3v11.0M98.7,88.8h11.0M109.0,88.1v11.0M103.5,93.6h11.0M115.0,94.4v11.0M109.5,99.9h11.0M121.6,98.3v11.0M116.1,103.8h11.0" fill="none" stroke="#8E4387" stroke-width="3.4"/>
<path d="M110.0,94.0v11.0M104.5,99.5h11.0M140.0,131.5v11.0M134.5,137.0h11.0M168.3,161.5v11.0M162.8,167.0h11.0M389.5,269.2v11.0M384.0,274.7h11.0M392.0,269.2v11.0M386.5,274.7h11.0M440.0,269.2v11.0M434.5,274.7h11.0M82.1,49.0v11.0M76.6,54.5h11.0M91.3,57.5v11.0M85.8,63.0h11.0M101.0,74.5v11.0M95.5,80.0h11.0" fill="none" stroke="#404D93" stroke-width="3.4"/>
<path d="M71.8,39.7v11.0M66.3,45.2h11.0M79.6,82.5v11.0M74.1,88.0h11.0" fill="none" stroke="#BE421B" stroke-width="3.4"/>
</g>
<g>
<path d="M70.0,648.2L80.0,648.2L80.0,647.0L90.0,647.0L94.8,647.0L94.8,645.0L106.1,645.0L106.1,643.0L110.0,643.0L118.0,643.0L118.0,640.0L126.0,640.0L138.0,640.0L138.0,637.0L150.0,637.0L160.0,637.0L160.0,634.5L170.0,634.5L175.0,634.5L175.0,631.5L180.0,631.5L441.0,631.5" fill="none" stroke="#646464" stroke-width="3.9" stroke-linejoin="round" stroke-linecap="round"/>
<path d="M70.0,648.2L80.0,648.2L80.0,648.0L90.0,648.0L95.0,648.0L95.0,646.0L100.0,646.0L108.2,646.0L108.2,644.3L112.5,644.3L112.5,642.6L120.0,642.6L122.5,642.6L122.5,640.5L147.7,640.5L147.7,638.5L150.0,638.5L152.8,638.5L152.8,636.0L162.3,636.0L162.3,633.4L170.0,633.4L173.0,633.4L173.0,631.4L177.0,631.4L177.0,629.4L180.0,629.4L187.3,629.4L187.3,627.0L192.5,627.0L192.5,624.6L199.0,624.6L208.8,624.6L208.8,623.7L218.5,623.7L231.0,623.7L231.0,621.7L243.5,621.7L254.6,621.7L254.6,619.4L262.0,619.4L262.0,617.0L270.4,617.0L275.2,617.0L275.2,614.5L280.0,614.5L280.0,613.7L441.0,613.7" fill="none" stroke="#CDB42C" stroke-width="3.9" stroke-linejoin="round" stroke-linecap="round"/>
<path d="M70.0,648.2L76.0,648.2L76.0,647.0L82.0,647.0L86.0,647.0L86.0,644.0L90.0,644.0L90.7,644.0L90.7,642.0L94.3,642.0L94.3,640.0L97.9,640.0L97.9,638.0L100.0,638.0L107.8,638.0L107.8,636.0L115.0,636.0L115.0,634.0L120.0,634.0L128.2,634.0L128.2,632.0L135.3,632.0L135.3,630.0L145.0,630.0L157.5,630.0L157.5,627.0L170.0,627.0L180.0,627.0L180.0,625.0L190.0,625.0L190.8,625.0L190.8,623.0L192.9,623.0L192.9,621.0L194.2,621.0L194.2,619.0L195.0,619.0L198.7,619.0L198.7,617.0L203.0,617.0L203.0,615.0L204.0,615.0L226.0,615.0L226.0,611.0L270.4,611.0L270.4,608.3L282.1,608.3L282.1,605.0L292.5,605.0L292.5,603.3L328.8,603.3L328.8,594.6L399.8,594.6L399.8,582.5L441.0,582.5" fill="none" stroke="#6AB08E" stroke-width="3.9" stroke-linejoin="round" stroke-linecap="round"/>
<path d="M70.0,648.2L77.5,648.2L77.5,645.0L85.0,645.0L86.3,645.0L86.3,642.8L87.6,642.8L87.6,640.6L90.2,640.6L90.2,638.4L92.3,638.4L92.3,636.2L95.3,636.2L95.3,634.0L96.0,634.0L101.0,634.0L101.0,631.5L110.2,631.5L110.2,629.0L112.0,629.0L112.1,629.0L112.1,626.9L112.4,626.9L112.4,624.8L112.5,624.8L112.5,622.6L112.8,622.6L112.8,620.5L113.1,620.5L113.1,618.4L113.3,618.4L113.3,616.2L113.6,616.2L113.6,614.1L113.9,614.1L113.9,612.0L114.0,612.0L122.5,612.0L122.5,609.0L131.0,609.0L160.5,609.0L160.5,597.7L163.6,597.7L163.6,595.9L168.0,595.9L168.0,594.0L172.0,594.0L174.2,594.0L174.2,592.0L178.9,592.0L178.9,590.0L180.0,590.0L180.8,590.0L180.8,588.0L188.6,588.0L188.6,586.0L190.0,586.0L195.0,586.0L195.0,585.5L200.0,585.5L205.0,585.5L205.0,583.8L210.0,583.8L213.2,583.8L213.2,581.9L216.9,581.9L216.9,580.0L220.0,580.0L221.3,580.0L221.3,577.6L229.1,577.6L229.1,575.2L230.0,575.2L231.9,575.2L231.9,572.8L236.1,572.8L236.1,570.4L240.0,570.4L242.5,570.4L242.5,568.6L245.0,568.6L441.3,568.6" fill="none" stroke="#8E4387" stroke-width="3.9" stroke-linejoin="round" stroke-linecap="round"/>
<path d="M70.0,648.2L72.1,648.2L72.1,645.6L73.0,645.6L73.0,643.0L75.0,643.0L76.6,643.0L76.6,640.5L78.7,640.5L78.7,638.0L80.0,638.0L82.0,638.0L82.0,636.0L83.6,636.0L83.6,634.0L87.0,634.0L87.0,632.0L88.2,632.0L88.2,630.0L90.0,630.0L94.2,630.0L94.2,627.5L97.2,627.5L97.2,625.0L100.0,625.0L100.9,625.0L100.9,623.0L104.6,623.0L104.6,621.0L108.6,621.0L108.6,619.0L110.0,619.0L110.9,619.0L110.9,617.0L117.1,617.0L117.1,615.0L120.0,615.0L120.9,615.0L120.9,613.0L126.6,613.0L126.6,611.0L131.0,611.0L132.0,611.0L132.0,592.5L169.2,592.5L169.2,580.4L199.2,580.4L199.2,556.0L205.0,556.0L205.0,551.0L208.8,551.0L208.8,541.5L209.8,541.5L209.8,527.0L211.7,527.0L211.7,513.6L441.5,513.6" fill="none" stroke="#404D93" stroke-width="3.9" stroke-linejoin="round" stroke-linecap="round"/>
<path d="M70.0,648.2L88.5,648.2L88.5,614.6L186.6,614.6L186.6,388.3" fill="none" stroke="#BE421B" stroke-width="3.9" stroke-linejoin="round" stroke-linecap="round"/>
<path d="M193.5,626.0v11.0M188.0,631.5h11.0M208.0,626.0v11.0M202.5,631.5h11.0M223.3,626.0v11.0M217.8,631.5h11.0M226.0,626.0v11.0M220.5,631.5h11.0M230.0,626.0v11.0M224.5,631.5h11.0M237.7,626.0v11.0M232.2,631.5h11.0M260.8,626.0v11.0M255.3,631.5h11.0M274.5,626.0v11.0M269.0,631.5h11.0M324.0,626.0v11.0M318.5,631.5h11.0M350.5,626.0v11.0M345.0,631.5h11.0M354.5,626.0v11.0M349.0,631.5h11.0M358.5,626.0v11.0M353.0,631.5h11.0M368.0,626.0v11.0M362.5,631.5h11.0M371.0,626.0v11.0M365.5,631.5h11.0M394.0,626.0v11.0M388.5,631.5h11.0M408.5,626.0v11.0M403.0,631.5h11.0M412.0,626.0v11.0M406.5,631.5h11.0M87.7,641.5v11.0M82.2,647.0h11.0M101.0,639.5v11.0M95.5,645.0h11.0M114.0,637.5v11.0M108.5,643.0h11.0M127.6,634.5v11.0M122.1,640.0h11.0M142.8,631.5v11.0M137.3,637.0h11.0M156.8,631.5v11.0M151.3,637.0h11.0M166.1,629.0v11.0M160.6,634.5h11.0M175.9,626.0v11.0M170.4,631.5h11.0" fill="none" stroke="#646464" stroke-width="3.4"/>
<path d="M185.8,623.9v11.0M180.3,629.4h11.0M191.5,621.5v11.0M186.0,627.0h11.0M201.0,619.1v11.0M195.5,624.6h11.0M207.0,619.1v11.0M201.5,624.6h11.0M212.7,618.2v11.0M207.2,623.7h11.0M218.5,618.2v11.0M213.0,623.7h11.0M228.0,618.2v11.0M222.5,623.7h11.0M235.8,616.2v11.0M230.3,621.7h11.0M243.5,616.2v11.0M238.0,621.7h11.0M272.3,611.5v11.0M266.8,617.0h11.0M277.0,609.0v11.0M271.5,614.5h11.0M290.8,608.2v11.0M285.3,613.7h11.0M292.5,608.2v11.0M287.0,613.7h11.0M294.2,608.2v11.0M288.7,613.7h11.0M311.5,608.2v11.0M306.0,613.7h11.0M313.3,608.2v11.0M307.8,613.7h11.0M315.0,608.2v11.0M309.5,613.7h11.0M325.4,608.2v11.0M319.9,613.7h11.0M341.0,608.2v11.0M335.5,613.7h11.0M342.7,608.2v11.0M337.2,613.7h11.0M361.7,608.2v11.0M356.2,613.7h11.0M377.3,608.2v11.0M371.8,613.7h11.0M382.5,608.2v11.0M377.0,613.7h11.0M399.8,608.2v11.0M394.3,613.7h11.0M413.6,608.2v11.0M408.1,613.7h11.0M427.5,608.2v11.0M422.0,613.7h11.0M429.2,608.2v11.0M423.7,613.7h11.0M92.1,642.5v11.0M86.6,648.0h11.0M98.3,640.5v11.0M92.8,646.0h11.0M103.1,640.5v11.0M97.6,646.0h11.0M110.8,638.8v11.0M105.3,644.3h11.0M117.6,637.1v11.0M112.1,642.6h11.0M124.5,635.0v11.0M119.0,640.5h11.0M130.1,635.0v11.0M124.6,640.5h11.0M137.3,635.0v11.0M131.8,640.5h11.0M144.1,635.0v11.0M138.6,640.5h11.0M150.3,633.0v11.0M144.8,638.5h11.0M154.3,630.5v11.0M148.8,636.0h11.0M159.8,630.5v11.0M154.3,636.0h11.0M167.7,627.9v11.0M162.2,633.4h11.0M173.7,625.9v11.0M168.2,631.4h11.0M178.9,623.9v11.0M173.4,629.4h11.0" fill="none" stroke="#CDB42C" stroke-width="3.4"/>
<path d="M226.0,605.5v11.0M220.5,611.0h11.0M232.0,605.5v11.0M226.5,611.0h11.0M237.7,605.5v11.0M232.2,611.0h11.0M243.5,605.5v11.0M238.0,611.0h11.0M249.0,605.5v11.0M243.5,611.0h11.0M255.0,605.5v11.0M249.5,611.0h11.0M260.8,605.5v11.0M255.3,611.0h11.0M272.3,602.8v11.0M266.8,608.3h11.0M273.5,602.8v11.0M268.0,608.3h11.0M283.8,599.5v11.0M278.3,605.0h11.0M292.5,597.8v11.0M287.0,603.3h11.0M304.6,597.8v11.0M299.1,603.3h11.0M308.0,597.8v11.0M302.5,603.3h11.0M311.5,597.8v11.0M306.0,603.3h11.0M316.7,597.8v11.0M311.2,603.3h11.0M332.3,589.1v11.0M326.8,594.6h11.0M334.0,589.1v11.0M328.5,594.6h11.0M344.4,589.1v11.0M338.9,594.6h11.0M380.8,589.1v11.0M375.3,594.6h11.0M394.6,589.1v11.0M389.1,594.6h11.0M403.3,577.0v11.0M397.8,582.5h11.0M413.6,577.0v11.0M408.1,582.5h11.0M417.1,577.0v11.0M411.6,582.5h11.0M424.0,577.0v11.0M418.5,582.5h11.0M436.0,577.0v11.0M430.5,582.5h11.0M82.9,641.5v11.0M77.4,647.0h11.0M87.5,638.5v11.0M82.0,644.0h11.0M94.1,636.5v11.0M88.6,642.0h11.0M100.7,632.5v11.0M95.2,638.0h11.0M104.9,632.5v11.0M99.4,638.0h11.0M111.3,630.5v11.0M105.8,636.0h11.0M118.2,628.5v11.0M112.7,634.0h11.0M124.5,628.5v11.0M119.0,634.0h11.0M127.6,628.5v11.0M122.1,634.0h11.0M134.5,626.5v11.0M129.0,632.0h11.0M138.6,624.5v11.0M133.1,630.0h11.0M144.8,624.5v11.0M139.3,630.0h11.0M148.4,624.5v11.0M142.9,630.0h11.0M153.7,624.5v11.0M148.2,630.0h11.0M158.4,621.5v11.0M152.9,627.0h11.0M164.1,621.5v11.0M158.6,627.0h11.0M170.2,621.5v11.0M164.7,627.0h11.0M176.6,621.5v11.0M171.1,627.0h11.0M182.9,619.5v11.0M177.4,625.0h11.0M189.4,619.5v11.0M183.9,625.0h11.0M194.9,613.5v11.0M189.4,619.0h11.0M200.0,611.5v11.0M194.5,617.0h11.0" fill="none" stroke="#6AB08E" stroke-width="3.4"/>
<path d="M271.7,563.1v11.0M266.2,568.6h11.0M290.8,563.1v11.0M285.3,568.6h11.0M293.5,563.1v11.0M288.0,568.6h11.0M304.6,563.1v11.0M299.1,568.6h11.0M316.7,563.1v11.0M311.2,568.6h11.0M330.6,563.1v11.0M325.1,568.6h11.0M332.3,563.1v11.0M326.8,568.6h11.0M346.8,563.1v11.0M341.3,568.6h11.0M382.5,563.1v11.0M377.0,568.6h11.0M391.1,563.1v11.0M385.6,568.6h11.0M422.3,563.1v11.0M416.8,568.6h11.0M139.8,603.5v11.0M134.3,609.0h11.0M145.0,603.5v11.0M139.5,609.0h11.0M150.0,603.5v11.0M144.5,609.0h11.0M155.4,603.5v11.0M149.9,609.0h11.0M110.0,626.0v11.0M104.5,631.5h11.0M116.0,606.5v11.0M110.5,612.0h11.0M121.0,606.5v11.0M115.5,612.0h11.0M126.0,603.5v11.0M120.5,609.0h11.0M170.2,588.5v11.0M164.7,594.0h11.0M177.6,586.5v11.0M172.1,592.0h11.0M184.1,582.5v11.0M178.6,588.0h11.0M190.5,580.5v11.0M185.0,586.0h11.0M196.2,580.0v11.0M190.7,585.5h11.0M204.4,580.0v11.0M198.9,585.5h11.0M209.7,578.2v11.0M204.2,583.8h11.0M214.2,576.4v11.0M208.7,581.9h11.0M219.1,574.5v11.0M213.6,580.0h11.0M225.9,572.1v11.0M220.4,577.6h11.0M234.2,567.3v11.0M228.7,572.8h11.0M240.9,564.9v11.0M235.4,570.4h11.0" fill="none" stroke="#8E4387" stroke-width="3.4"/>
<path d="M185.5,574.9v11.0M180.0,580.4h11.0M204.0,550.5v11.0M198.5,556.0h11.0M224.2,508.1v11.0M218.7,513.6h11.0M229.6,508.1v11.0M224.1,513.6h11.0M259.2,508.1v11.0M253.7,513.6h11.0M264.5,508.1v11.0M259.0,513.6h11.0M387.0,508.1v11.0M381.5,513.6h11.0M390.8,508.1v11.0M385.3,513.6h11.0M440.0,508.1v11.0M434.5,513.6h11.0M139.8,587.0v11.0M134.3,592.5h11.0M144.1,587.0v11.0M138.6,592.5h11.0M148.4,587.0v11.0M142.9,592.5h11.0M152.8,587.0v11.0M147.3,592.5h11.0M157.1,587.0v11.0M151.6,592.5h11.0M161.4,587.0v11.0M155.9,592.5h11.0M165.7,587.0v11.0M160.2,592.5h11.0M75.5,637.5v11.0M70.0,643.0h11.0M78.0,635.0v11.0M72.5,640.5h11.0M80.1,632.5v11.0M74.6,638.0h11.0M83.6,628.5v11.0M78.1,634.0h11.0M86.9,628.5v11.0M81.4,634.0h11.0M89.8,624.5v11.0M84.3,630.0h11.0M93.2,624.5v11.0M87.7,630.0h11.0M96.2,622.0v11.0M90.7,627.5h11.0M98.0,619.5v11.0M92.5,625.0h11.0M101.2,617.5v11.0M95.7,623.0h11.0M104.1,617.5v11.0M98.6,623.0h11.0M107.4,615.5v11.0M101.9,621.0h11.0M109.6,613.5v11.0M104.1,619.0h11.0M113.2,611.5v11.0M107.7,617.0h11.0M116.3,611.5v11.0M110.8,617.0h11.0M118.6,609.5v11.0M113.1,615.0h11.0M121.4,607.5v11.0M115.9,613.0h11.0M123.3,607.5v11.0M117.8,613.0h11.0M125.6,607.5v11.0M120.1,613.0h11.0M128.8,605.5v11.0M123.3,611.0h11.0" fill="none" stroke="#404D93" stroke-width="3.4"/>
<path d="M71.0,642.7v11.0M65.5,648.2h11.0M74.0,642.7v11.0M68.5,648.2h11.0M77.0,642.7v11.0M71.5,648.2h11.0M80.0,642.7v11.0M74.5,648.2h11.0M83.0,642.7v11.0M77.5,648.2h11.0M89.0,609.1v11.0M83.5,614.6h11.0M92.0,609.1v11.0M86.5,614.6h11.0M96.0,609.1v11.0M90.5,614.6h11.0M100.0,609.1v11.0M94.5,614.6h11.0M103.0,609.1v11.0M97.5,614.6h11.0" fill="none" stroke="#BE421B" stroke-width="3.4"/>
</g>
<g>
<path d="M64.0,730.4L64.5,730.4L64.5,732.0L66.4,732.0L66.4,733.7L67.9,733.7L67.9,735.4L69.6,735.4L69.6,737.0L70.0,737.0L70.2,737.0L70.2,738.6L71.1,738.6L71.1,740.2L71.9,740.2L71.9,741.8L72.8,741.8L72.8,743.3L73.9,743.3L73.9,744.9L74.4,744.9L74.4,746.5L75.4,746.5L75.4,748.1L76.1,748.1L76.1,749.7L77.0,749.7L77.0,751.2L77.9,751.2L77.9,752.8L78.9,752.8L78.9,754.4L79.6,754.4L79.6,756.0L80.0,756.0L80.1,756.0L80.1,757.5L81.2,757.5L81.2,759.1L82.0,759.1L82.0,760.6L83.4,760.6L83.4,762.2L84.3,762.2L84.3,763.7L85.2,763.7L85.2,765.3L86.1,765.3L86.1,766.8L87.0,766.8L87.0,768.4L88.0,768.4L88.0,769.9L88.8,769.9L88.8,771.5L89.4,771.5L89.4,773.0L90.0,773.0L90.7,773.0L90.7,774.5L91.5,774.5L91.5,776.1L92.7,776.1L92.7,777.6L93.5,777.6L93.5,779.2L94.5,779.2L94.5,780.8L95.4,780.8L95.4,782.3L96.5,782.3L96.5,783.9L97.4,783.9L97.4,785.4L98.2,785.4L98.2,787.0L99.7,787.0L99.7,788.5L100.0,788.5L100.7,788.5L100.7,790.0L101.8,790.0L101.8,791.6L102.6,791.6L102.6,793.1L103.5,793.1L103.5,794.6L104.7,794.6L104.7,796.1L105.2,796.1L105.2,797.7L106.6,797.7L106.6,799.2L107.5,799.2L107.5,800.7L108.3,800.7L108.3,802.3L109.3,802.3L109.3,803.8L110.0,803.8L110.7,803.8L110.7,805.5L111.9,805.5L111.9,807.1L113.5,807.1L113.5,808.8L115.1,808.8L115.1,810.4L116.3,810.4L116.3,812.1L117.5,812.1L117.5,813.7L119.3,813.7L119.3,815.4L120.0,815.4L120.3,815.4L120.3,816.9L121.5,816.9L121.5,818.4L122.5,818.4L122.5,819.9L123.8,819.9L123.8,821.4L124.7,821.4L124.7,823.0L126.2,823.0L126.2,824.5L127.6,824.5L127.6,826.0L128.2,826.0L128.2,827.5L129.6,827.5L129.6,829.0L130.0,829.0L131.0,829.0L131.0,830.6L131.5,830.6L131.5,832.1L132.8,832.1L132.8,833.7L134.6,833.7L134.6,835.2L135.9,835.2L135.9,836.8L137.0,836.8L137.0,838.4L137.8,838.4L137.8,839.9L139.3,839.9L139.3,841.5L140.0,841.5L141.5,841.5L141.5,843.1L143.5,843.1L143.5,844.7L145.4,844.7L145.4,846.3L146.6,846.3L146.6,847.9L149.5,847.9L149.5,849.5L150.0,849.5L151.0,849.5L151.0,851.1L154.1,851.1L154.1,852.8L155.6,852.8L155.6,854.4L159.6,854.4L159.6,856.0L160.0,856.0L162.9,856.0L162.9,857.5L168.3,857.5L168.3,859.0L170.0,859.0L171.0,859.0L171.0,860.7L175.3,860.7L175.3,862.3L178.5,862.3L178.5,864.0L180.0,864.0L181.4,864.0L181.4,865.7L183.5,865.7L183.5,867.4L186.6,867.4L186.6,869.0L188.5,869.0L188.5,870.7L190.0,870.7L190.9,870.7L190.9,872.3L193.2,872.3L193.2,873.9L196.6,873.9L196.6,875.4L198.1,875.4L198.1,877.0L200.0,877.0L200.8,877.0L200.8,878.5L203.0,878.5L203.0,880.0L206.5,880.0L206.5,881.5L208.8,881.5L208.8,883.0L210.0,883.0L211.3,883.0L211.3,884.8L212.9,884.8L212.9,886.5L216.1,886.5L216.1,888.2L218.5,888.2L218.5,890.0L220.0,890.0L220.4,890.0L220.4,891.8L222.3,891.8L222.3,893.5L225.7,893.5L225.7,895.3L226.5,895.3L226.5,897.0L228.7,897.0L228.7,898.8L230.0,898.8L230.7,898.8L230.7,900.2L233.1,900.2L233.1,901.7L234.4,901.7L234.4,903.1L237.0,903.1L237.0,904.6L238.8,904.6L238.8,906.0L240.0,906.0L241.8,906.0L241.8,907.6L242.9,907.6L242.9,909.2L246.0,909.2L246.0,910.9L248.7,910.9L248.7,912.5L250.0,912.5L251.0,912.5L251.0,914.1L251.9,914.1L251.9,915.8L253.1,915.8L253.1,917.4L254.5,917.4L254.5,919.0L255.4,919.0L255.4,920.6L256.5,920.6L256.5,922.2L258.1,922.2L258.1,923.9L259.7,923.9L259.7,925.5L260.0,925.5L262.2,925.5L262.2,927.3L264.4,927.3L264.4,929.2L268.8,929.2L268.8,931.0L270.0,931.0L271.9,931.0L271.9,932.8L273.3,932.8L273.3,934.5L276.4,934.5L276.4,936.2L278.5,936.2L278.5,938.0L280.0,938.0L281.1,938.0L281.1,939.5L284.5,939.5L284.5,941.0L287.6,941.0L287.6,942.5L290.0,942.5L345.4,942.5L345.4,949.6L365.8,949.6L365.8,957.7L372.7,957.7L372.7,965.8L465.0,965.8" fill="none" stroke="#B5B5B5" stroke-width="3.9" stroke-linejoin="round" stroke-linecap="round"/>
<path d="M296.9,936.2v12.5M290.6,942.5h12.5M310.3,936.2v12.5M304.1,942.5h12.5M330.4,936.2v12.5M324.1,942.5h12.5M346.5,943.4v12.5M340.2,949.6h12.5M377.3,959.5v12.5M371.1,965.8h12.5M437.3,959.5v12.5M431.1,965.8h12.5M455.1,959.5v12.5M448.9,965.8h12.5M458.8,959.5v12.5M452.6,965.8h12.5M66.1,725.8v12.5M59.8,732.0h12.5M68.9,729.1v12.5M62.6,735.4h12.5M71.4,733.9v12.5M65.2,740.2h12.5M72.9,737.1v12.5M66.6,743.3h12.5M75.1,740.2v12.5M68.9,746.5h12.5M76.9,743.4v12.5M70.7,749.7h12.5M79.7,749.8v12.5M73.5,756.0h12.5M82.5,754.4v12.5M76.3,760.6h12.5M84.4,757.5v12.5M78.1,763.7h12.5M86.7,760.6v12.5M80.5,766.8h12.5M88.9,765.2v12.5M82.7,771.5h12.5M90.8,768.3v12.5M84.5,774.5h12.5M92.9,771.4v12.5M86.6,777.6h12.5M94.9,774.5v12.5M88.7,780.8h12.5M97.1,777.6v12.5M90.8,783.9h12.5M100.0,782.2v12.5M93.7,788.5h12.5M102.5,785.3v12.5M96.3,791.6h12.5M104.0,788.4v12.5M97.8,794.6h12.5M106.0,791.4v12.5M99.7,797.7h12.5M108.9,796.0v12.5M102.7,802.3h12.5M111.5,799.2v12.5M105.3,805.5h12.5M113.9,802.5v12.5M107.7,808.8h12.5M116.3,805.8v12.5M110.1,812.1h12.5M118.8,807.5v12.5M112.6,813.7h12.5M120.5,810.7v12.5M114.3,816.9h12.5M122.6,813.7v12.5M116.3,819.9h12.5M124.4,815.2v12.5M118.1,821.4h12.5M126.1,816.7v12.5M119.9,823.0h12.5M128.6,821.2v12.5M122.4,827.5h12.5M130.1,822.8v12.5M123.8,829.0h12.5M131.8,825.9v12.5M125.5,832.1h12.5M134.3,827.4v12.5M128.0,833.7h12.5M137.1,832.1v12.5M130.9,838.4h12.5M139.0,833.7v12.5M132.8,839.9h12.5M141.8,836.9v12.5M135.5,843.1h12.5M144.5,838.5v12.5M138.2,844.7h12.5M146.1,840.0v12.5M139.9,846.3h12.5M149.0,841.6v12.5M142.8,847.9h12.5M150.7,843.2v12.5M144.4,849.5h12.5M152.8,844.9v12.5M146.6,851.1h12.5M154.4,846.5v12.5M148.1,852.8h12.5M155.9,848.1v12.5M149.7,854.4h12.5M158.4,848.1v12.5M152.1,854.4h12.5M161.1,849.8v12.5M154.9,856.0h12.5M162.7,849.8v12.5M156.5,856.0h12.5M164.6,851.2v12.5M158.4,857.5h12.5M167.0,851.2v12.5M160.8,857.5h12.5M169.4,852.8v12.5M163.1,859.0h12.5M171.0,852.8v12.5M164.7,859.0h12.5M173.5,854.4v12.5M167.2,860.7h12.5M175.1,854.4v12.5M168.8,860.7h12.5M177.9,856.1v12.5M171.7,862.3h12.5M180.4,857.8v12.5M174.2,864.0h12.5M182.9,859.4v12.5M176.6,865.7h12.5M185.8,861.1v12.5M179.5,867.4h12.5M187.5,862.8v12.5M181.3,869.0h12.5M189.3,864.5v12.5M183.0,870.7h12.5M191.7,866.0v12.5M185.4,872.3h12.5M194.5,867.6v12.5M188.2,873.9h12.5M197.4,869.2v12.5M191.1,875.4h12.5M200.0,870.8v12.5M193.8,877.0h12.5M202.4,872.2v12.5M196.2,878.5h12.5M204.4,873.8v12.5M198.1,880.0h12.5M207.0,875.2v12.5M200.8,881.5h12.5M209.5,876.8v12.5M203.2,883.0h12.5M212.3,878.5v12.5M206.0,884.8h12.5M214.9,880.2v12.5M208.6,886.5h12.5M217.1,882.0v12.5M210.8,888.2h12.5M219.5,883.8v12.5M213.2,890.0h12.5M221.2,885.5v12.5M215.0,891.8h12.5M223.1,887.3v12.5M216.8,893.5h12.5M225.7,889.0v12.5M219.5,895.3h12.5M228.2,890.8v12.5M222.0,897.0h12.5M229.7,892.5v12.5M223.4,898.8h12.5M231.4,894.0v12.5M225.2,900.2h12.5M233.5,895.4v12.5M227.2,901.7h12.5M235.8,896.9v12.5M229.5,903.1h12.5M237.7,898.3v12.5M231.5,904.6h12.5M239.7,899.8v12.5M233.5,906.0h12.5M242.7,901.4v12.5M236.4,907.6h12.5M244.7,903.0v12.5M238.4,909.2h12.5M246.8,904.6v12.5M240.5,910.9h12.5M249.7,906.2v12.5M243.4,912.5h12.5M251.6,907.9v12.5M245.4,914.1h12.5M253.9,911.1v12.5M247.6,917.4h12.5M255.5,914.4v12.5M249.3,920.6h12.5M258.3,917.6v12.5M252.0,923.9h12.5M261.0,919.2v12.5M254.8,925.5h12.5M262.8,921.1v12.5M256.5,927.3h12.5M265.2,922.9v12.5M258.9,929.2h12.5M267.0,922.9v12.5M260.7,929.2h12.5M269.7,924.8v12.5M263.5,931.0h12.5M271.9,926.5v12.5M265.7,932.8h12.5M273.8,928.2v12.5M267.5,934.5h12.5M276.7,930.0v12.5M270.5,936.2h12.5M278.9,931.8v12.5M272.6,938.0h12.5M281.2,933.2v12.5M274.9,939.5h12.5M284.1,933.2v12.5M277.9,939.5h12.5M286.0,934.8v12.5M279.7,941.0h12.5M288.1,936.2v12.5M281.9,942.5h12.5M291.0,936.2v12.5M284.7,942.5h12.5" fill="none" stroke="#B5B5B5" stroke-width="3.8"/>
<path d="M64.0,730.4L65.7,730.4L65.7,733.2L69.3,733.2L69.3,736.0L70.0,736.0L70.8,736.0L70.8,740.0L72.7,740.0L72.7,744.0L74.7,744.0L74.7,748.0L75.0,748.0L75.9,748.0L75.9,752.0L77.8,752.0L77.8,756.0L79.4,756.0L79.4,760.0L80.0,760.0L80.8,760.0L80.8,763.2L81.2,763.2L81.2,766.4L82.3,766.4L82.3,769.6L83.0,769.6L84.7,769.6L84.7,773.1L86.3,773.1L86.3,776.5L87.7,776.5L87.7,780.0L89.0,780.0L90.3,780.0L90.3,783.3L91.5,783.3L91.5,786.7L93.8,786.7L93.8,790.0L95.0,790.0L96.1,790.0L96.1,794.2L98.3,794.2L98.3,798.5L100.0,798.5L100.6,798.5L100.6,802.2L103.8,802.2L103.8,806.0L105.0,806.0L106.5,806.0L106.5,810.0L108.4,810.0L108.4,814.0L110.0,814.0L110.6,814.0L110.6,818.0L111.8,818.0L111.8,822.0L112.0,822.0L112.3,822.0L112.3,825.5L114.0,825.5L114.0,829.0L115.0,829.0L117.5,829.0L117.5,834.0L120.0,834.0L120.2,834.0L120.2,837.5L121.6,837.5L121.6,841.0L122.0,841.0L124.0,841.0L124.0,846.0L126.0,846.0L126.3,846.0L126.3,850.0L127.0,850.0L127.0,854.0L127.5,854.0L127.5,858.0L128.0,858.0L128.7,858.0L128.7,861.0L129.7,861.0L129.7,864.0L130.5,864.0L130.5,867.0L131.0,867.0L131.5,867.0L131.5,870.0L131.9,870.0L131.9,873.0L132.6,873.0L132.6,876.0L133.0,876.0L135.0,876.0L135.0,881.0L137.0,881.0L138.7,881.0L138.7,883.8L140.4,883.8L142.7,883.8L142.7,888.0L145.0,888.0L149.0,888.0L149.0,893.0L153.0,893.0L153.0,900.0L156.5,900.0L156.5,910.4L158.9,910.4L158.9,916.2L161.2,916.2L161.2,923.1L163.5,923.1L163.5,928.9L167.0,928.9L167.0,934.7L170.4,934.7L170.4,939.3L172.7,939.3L172.7,943.9L186.6,943.9L186.6,949.7L188.9,949.7L188.9,961.2L214.3,961.2L214.3,967.0L216.0,967.0L216.0,972.8L240.9,972.8L240.9,997.2" fill="none" stroke="#4A5A88" stroke-width="3.9" stroke-linejoin="round" stroke-linecap="round"/>
<path d="M69.0,727.2v12.0M63.0,733.2h12.0M72.0,734.0v12.0M66.0,740.0h12.0M76.0,746.0v12.0M70.0,752.0h12.0M87.0,770.5v12.0M81.0,776.5h12.0M92.8,780.7v12.0M86.8,786.7h12.0M98.6,792.5v12.0M92.6,798.5h12.0M104.4,800.0v12.0M98.4,806.0h12.0M108.2,804.0v12.0M102.2,810.0h12.0M114.0,819.5v12.0M108.0,825.5h12.0M119.8,828.0v12.0M113.8,834.0h12.0M138.0,875.0v12.0M132.0,881.0h12.0M145.0,882.0v12.0M139.0,888.0h12.0M152.0,887.0v12.0M146.0,893.0h12.0M178.5,937.9v12.0M172.5,943.9h12.0M195.8,955.2v12.0M189.8,961.2h12.0M217.5,966.8v12.0M211.5,972.8h12.0" fill="none" stroke="#4A5A88" stroke-width="3.6"/>
<path d="M64.8,730.4L79.2,730.4L79.2,783.8L88.8,783.8L88.8,837.2L132.9,837.2L132.9,890.6L139.6,890.6L139.6,944.0L158.5,944.0L158.5,997.2" fill="none" stroke="#BC2452" stroke-width="3.9" stroke-linejoin="round" stroke-linecap="round"/>
</g>
</svg>
</body></html>
